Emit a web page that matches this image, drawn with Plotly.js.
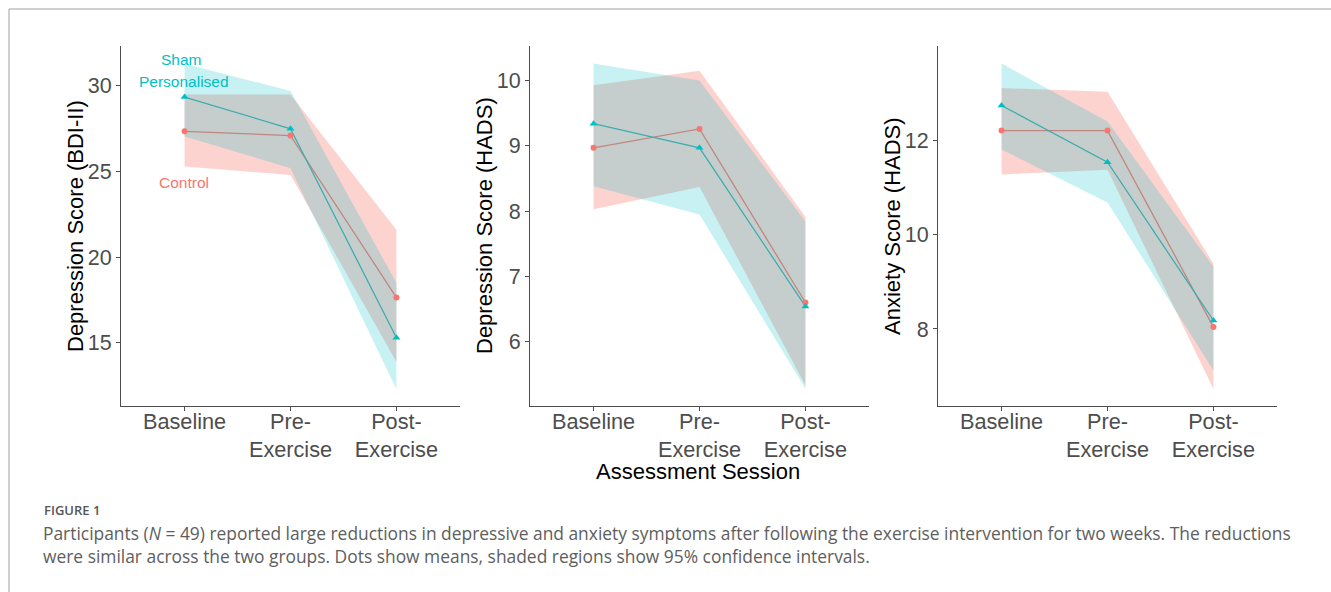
<!DOCTYPE html>
<html>
<head>
<meta charset="utf-8">
<script src="https://cdn.plot.ly/plotly-3.0.1.min.js"></script>
<style>html,body{margin:0;padding:0;background:#fff;}#chart{width:1331px;height:592px;}</style>
</head>
<body>
<div id="chart"></div>
<script>
// ---- data ----
const sessions = ["Baseline", "Pre-<br>Exercise", "Post-<br>Exercise"];
const groups = ["Control", "Personalised"];

// Panel 1: Depression Score (BDI-II)
const bdiControlMean  = [27.35, 27.1, 17.65];
const bdiControlLow   = [25.3, 24.8, 13.9];
const bdiControlHigh  = [29.5, 29.5, 21.6];
const bdiPersMean     = [29.35, 27.5, 15.3];
const bdiPersLow      = [27.05, 25.2, 12.3];
const bdiPersHigh     = [31.3, 29.7, 18.5];

// Panel 2: Depression Score (HADS)
const hdControlMean = [8.97, 9.26, 6.6];
const hdControlLow  = [8.03, 8.37, 5.33];
const hdControlHigh = [9.93, 10.15, 7.91];
const hdPersMean    = [9.34, 8.97, 6.54];
const hdPersLow     = [8.38, 7.95, 5.28];
const hdPersHigh    = [10.26, 10.0, 7.84];

// Panel 3: Anxiety Score (HADS)
const haControlMean = [12.2, 12.2, 8.04];
const haControlLow  = [11.27, 11.37, 6.73];
const haControlHigh = [13.1, 13.02, 9.38];
const haPersMean    = [12.73, 11.53, 8.18];
const haPersLow     = [11.8, 10.68, 7.12];
const haPersHigh    = [13.62, 12.39, 9.32];

const yTitles = ["Depression Score (BDI-II)", "Depression Score (HADS)", "Anxiety Score (HADS)"];
const yTicks = [[15, 20, 25, 30], [6, 7, 8, 9, 10], [8, 10, 12]];
const xTitle = "Assessment Session";
const captionHead = "FIGURE 1";
const captionLine1 = "Participants (<i>N</i> = 49) reported large reductions in depressive and anxiety symptoms after following the exercise intervention for two weeks. The reductions";
const captionLine2 = "were similar across the two groups. Dots show means, shaded regions show 95% confidence intervals.";

// ---- styling ----
const RED = "#F8766D", TEAL = "#00BFC4";
const RED_FILL = "rgba(248,118,109,0.32)", TEAL_FILL = "rgba(0,191,196,0.22)";
const W = 1331, H = 592;
const FONT = "Liberation Sans, Arial, Helvetica, sans-serif";
const CAP_FONT = "Open Sans, sans-serif";

const panels = [
  {ctrl:[bdiControlMean, bdiControlLow, bdiControlHigh], pers:[bdiPersMean, bdiPersLow, bdiPersHigh], range:[11.32, 32.33], x0:121, x1:460},
  {ctrl:[hdControlMean, hdControlLow, hdControlHigh], pers:[hdPersMean, hdPersLow, hdPersHigh], range:[5.014, 10.53], x0:530, x1:869},
  {ctrl:[haControlMean, haControlLow, haControlHigh], pers:[haPersMean, haPersLow, haPersHigh], range:[6.37, 13.99], x0:938, x1:1277}
];
const plotTop = 46, plotBottom = 406;

const traces = [];
const layout = {
  width: W, height: H,
  margin: {l:0, r:0, t:0, b:0},
  paper_bgcolor: "#fff", plot_bgcolor: "#fff",
  showlegend: false,
  font: {family: FONT, color: "#4D4D4D"},
  annotations: [], shapes: []
};

function px(x){ return x / W; }
function py(y){ return 1 - y / H; }

panels.forEach((p, i) => {
  const ax = i === 0 ? "" : String(i + 1);
  const xa = "x" + ax, ya = "y" + ax;
  // lines (under ribbons)
  [[p.ctrl, RED], [p.pers, TEAL]].forEach(([g, c]) => {
    traces.push({x: sessions, y: g[0], xaxis: xa, yaxis: ya, type: "scatter", mode: "lines",
      line: {color: c, width: 1.3}, hoverinfo: "skip"});
  });
  // ribbons
  [[p.ctrl, RED_FILL], [p.pers, TEAL_FILL]].forEach(([g, f]) => {
    traces.push({x: sessions.concat(sessions.slice().reverse()), y: g[2].concat(g[1].slice().reverse()),
      xaxis: xa, yaxis: ya, type: "scatter", mode: "lines", fill: "toself", fillcolor: f,
      line: {width: 0, color: "rgba(0,0,0,0)"}, hoverinfo: "skip"});
  });
  // points
  traces.push({x: sessions, y: p.ctrl[0], xaxis: xa, yaxis: ya, type: "scatter", mode: "markers",
    marker: {color: RED, size: 6, symbol: "circle"}, name: groups[0]});
  traces.push({x: sessions, y: p.pers[0], xaxis: xa, yaxis: ya, type: "scatter", mode: "markers",
    marker: {color: TEAL, size: 7, symbol: "triangle-up"}, name: groups[1]});

  layout["xaxis" + ax] = {
    domain: [px(p.x0), px(p.x1)], anchor: ya, type: "category",
    categoryorder: "array", categoryarray: sessions,
    range: [-0.6, 2.6], showgrid: false, zeroline: false,
    showline: true, linecolor: "#4D4D4D", linewidth: 1,
    ticks: "outside", ticklen: 4, tickcolor: "#4D4D4D", tickwidth: 1,
    ticklabelstandoff: -8,
    tickfont: {size: 21.7, color: "#4D4D4D", family: FONT}, fixedrange: true
  };
  layout["yaxis" + ax] = {
    domain: [py(plotBottom), py(plotTop)], anchor: xa,
    range: p.range, tickvals: yTicks[i], showgrid: false, zeroline: false,
    showline: true, linecolor: "#4D4D4D", linewidth: 1,
    ticks: "outside", ticklen: 4, tickcolor: "#4D4D4D", tickwidth: 1,
    tickfont: {size: 21.5, color: "#4D4D4D", family: FONT}, fixedrange: true
  };
  const titleX = [75, 484, 892][i];
  layout.annotations.push({xref: "paper", yref: "paper", x: px(titleX), y: py((plotTop + plotBottom) / 2),
    text: yTitles[i], showarrow: false, textangle: -90, xanchor: "center", yanchor: "middle",
    font: {size: 22, color: "#000", family: FONT}});
});

// group labels in panel 1
layout.annotations.push(
  {xref: "paper", yref: "paper", x: px(182), y: py(59), text: "Sham", showarrow: false,
   xanchor: "center", yanchor: "middle", font: {size: 15.5, color: TEAL, family: FONT}},
  {xref: "paper", yref: "paper", x: px(184), y: py(81), text: "Personalised", showarrow: false,
   xanchor: "center", yanchor: "middle", font: {size: 15.5, color: TEAL, family: FONT}},
  {xref: "paper", yref: "paper", x: px(184), y: py(182), text: "Control", showarrow: false,
   xanchor: "center", yanchor: "middle", font: {size: 15.5, color: RED, family: FONT}},
  {xref: "paper", yref: "paper", x: px(698), y: py(471), text: xTitle, showarrow: false,
   xanchor: "center", yanchor: "middle", font: {size: 22, color: "#000", family: FONT}},
  {xref: "paper", yref: "paper", x: px(42), y: py(510), text: captionHead, showarrow: false,
   xanchor: "left", yanchor: "middle", font: {size: 13, color: "#555", family: CAP_FONT, weight: 600}},
  {xref: "paper", yref: "paper", x: px(41), y: py(533), text: captionLine1, showarrow: false,
   xanchor: "left", yanchor: "middle", font: {size: 17.4, color: "#5E5E5E", family: CAP_FONT}},
  {xref: "paper", yref: "paper", x: px(41), y: py(556), text: captionLine2, showarrow: false,
   xanchor: "left", yanchor: "middle", font: {size: 17.4, color: "#5E5E5E", family: CAP_FONT}}
);

// frame
layout.shapes.push(
  {type: "line", xref: "paper", yref: "paper", x0: px(9), x1: 1, y0: py(9), y1: py(9), line: {color: "#A0A0A0", width: 1}},
  {type: "line", xref: "paper", yref: "paper", x0: px(9), x1: px(9), y0: py(9), y1: 0, line: {color: "#A0A0A0", width: 1}}
);

Plotly.newPlot("chart", traces, layout, {displayModeBar: false, staticPlot: true});
</script>
</body>
</html>
